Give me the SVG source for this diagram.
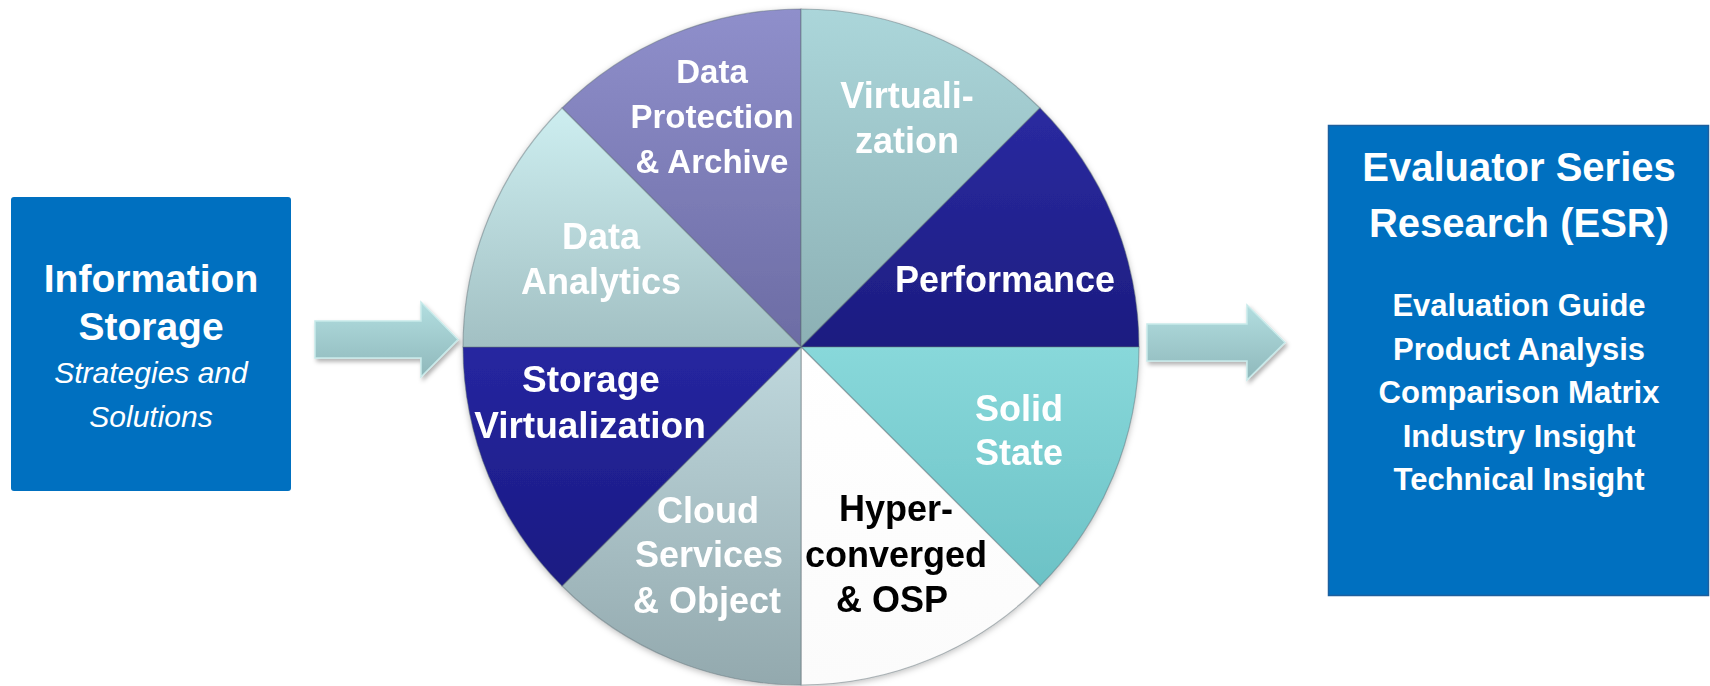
<svg xmlns="http://www.w3.org/2000/svg" width="1710" height="686" viewBox="0 0 1710 686">
<style>
.box{fill:#0070c0}
.t{font-family:"Liberation Sans",Arial,sans-serif;text-anchor:middle}
.w{fill:#ffffff}
.b{font-weight:bold}
.k{fill:#000000}
.it{font-style:italic}
.sec{stroke:#5a6a70;stroke-opacity:0.45;stroke-width:1.2}
.arrow{fill:url(#gArrow);stroke:#c8eaea;stroke-width:1.5}
</style>
<defs>
<linearGradient id="gDP" x1="0" y1="0" x2="0" y2="1"><stop offset="0" stop-color="#8f8fcb"/><stop offset="1" stop-color="#6c6ca4"/></linearGradient>
<linearGradient id="gV" x1="0" y1="0" x2="0" y2="1"><stop offset="0" stop-color="#abd6da"/><stop offset="1" stop-color="#8cb0b4"/></linearGradient>
<linearGradient id="gP" x1="0" y1="0" x2="0" y2="1"><stop offset="0" stop-color="#2a2aa0"/><stop offset="1" stop-color="#1c1c80"/></linearGradient>
<linearGradient id="gSS" x1="0" y1="0" x2="0" y2="1"><stop offset="0" stop-color="#88d8da"/><stop offset="1" stop-color="#6cc2c6"/></linearGradient>
<linearGradient id="gH" x1="0" y1="0" x2="0" y2="1"><stop offset="0" stop-color="#ffffff"/><stop offset="1" stop-color="#fbfbfb"/></linearGradient>
<linearGradient id="gC" x1="0" y1="0" x2="0" y2="1"><stop offset="0" stop-color="#bfd8dd"/><stop offset="1" stop-color="#93a9ae"/></linearGradient>
<linearGradient id="gSV" x1="0" y1="0" x2="0" y2="1"><stop offset="0" stop-color="#2626a0"/><stop offset="1" stop-color="#1a1a82"/></linearGradient>
<linearGradient id="gDA" x1="0" y1="0" x2="0" y2="1"><stop offset="0" stop-color="#cdeef0"/><stop offset="1" stop-color="#a2c0c3"/></linearGradient>
<linearGradient id="gArrow" x1="0" y1="0" x2="0" y2="1"><stop offset="0" stop-color="#b2dee0"/><stop offset="1" stop-color="#8fb8bb"/></linearGradient>
<filter id="shadow" x="-10%" y="-10%" width="125%" height="130%"><feDropShadow dx="2" dy="3" stdDeviation="2" flood-color="#000000" flood-opacity="0.3"/></filter>
<filter id="pieShadow" x="-5%" y="-5%" width="110%" height="110%"><feDropShadow dx="0" dy="2" stdDeviation="3" flood-color="#000000" flood-opacity="0.25"/></filter>
</defs>

<g id="source">
<rect class="box" x="11" y="197" width="280" height="294" rx="3"/>
<text class="t w b" x="151" y="292" font-size="39">Information</text>
<text class="t w b" x="151" y="340" font-size="39">Storage</text>
<text class="t w it" x="151" y="383" font-size="30">Strategies and</text>
<text class="t w it" x="151" y="427" font-size="30">Solutions</text>
</g>

<g id="connectors" filter="url(#shadow)">
<path id="arrow-in" class="arrow" d="M315,321 L421,321 L421,302 L458,339.5 L421,377 L421,358 L315,358 Z"/>
<path id="arrow-out" class="arrow" d="M1147,324 L1247,324 L1247,305 L1285,342.5 L1247,380 L1247,361 L1147,361 Z"/>
</g>

<g id="pie" filter="url(#pieShadow)">
<g id="seg-data-protection">
<path class="sec" fill="url(#gDP)" d="M801,347 L562,108 A338,338 0 0 1 801,9 Z"/>
<text class="t w b" x="712" y="83" font-size="33">Data</text>
<text class="t w b" x="712" y="128" font-size="33">Protection</text>
<text class="t w b" x="712" y="173" font-size="33">&amp; Archive</text>
</g>
<g id="seg-virtualization">
<path class="sec" fill="url(#gV)" d="M801,347 L801,9 A338,338 0 0 1 1040,108 Z"/>
<text class="t w b" x="907" y="108" font-size="36">Virtuali-</text>
<text class="t w b" x="907" y="153" font-size="36">zation</text>
</g>
<g id="seg-performance">
<path class="sec" fill="url(#gP)" d="M801,347 L1040,108 A338,338 0 0 1 1139,347 Z"/>
<text class="t w b" x="1005" y="292" font-size="36">Performance</text>
</g>
<g id="seg-solid-state">
<path class="sec" fill="url(#gSS)" d="M801,347 L1139,347 A338,338 0 0 1 1040,586 Z"/>
<text class="t w b" x="1019" y="421" font-size="36">Solid</text>
<text class="t w b" x="1019" y="465" font-size="36">State</text>
</g>
<g id="seg-hyperconverged">
<path class="sec" fill="url(#gH)" d="M801,347 L1040,586 A338,338 0 0 1 801,685 Z"/>
<text class="t k b" x="896" y="521" font-size="36">Hyper-</text>
<text class="t k b" x="896" y="567" font-size="36">converged</text>
<text class="t k b" x="892" y="612" font-size="36">&amp; OSP</text>
</g>
<g id="seg-cloud">
<path class="sec" fill="url(#gC)" d="M801,347 L801,685 A338,338 0 0 1 562,586 Z"/>
<text class="t w b" x="708" y="523" font-size="36">Cloud</text>
<text class="t w b" x="709" y="567" font-size="36">Services</text>
<text class="t w b" x="707" y="613" font-size="36">&amp; Object</text>
</g>
<g id="seg-storage-virtualization">
<path class="sec" fill="url(#gSV)" d="M801,347 L562,586 A338,338 0 0 1 463,347 Z"/>
<text class="t w b" x="591" y="392" font-size="37">Storage</text>
<text class="t w b" x="590" y="438" font-size="37">Virtualization</text>
</g>
<g id="seg-data-analytics">
<path class="sec" fill="url(#gDA)" d="M801,347 L463,347 A338,338 0 0 1 562,108 Z"/>
<text class="t w b" x="601" y="249" font-size="36">Data</text>
<text class="t w b" x="601" y="294" font-size="36">Analytics</text>
</g>
</g>

<g id="esr">
<rect class="box" x="1328.5" y="125.5" width="380" height="470" stroke="#1d5f9e" stroke-width="1.5"/>
<text class="t w b" x="1519" y="181" font-size="40">Evaluator Series</text>
<text class="t w b" x="1519" y="237" font-size="40">Research (ESR)</text>
<text class="t w b" x="1519" y="316" font-size="31">Evaluation Guide</text>
<text class="t w b" x="1519" y="360" font-size="31">Product Analysis</text>
<text class="t w b" x="1519" y="403" font-size="31">Comparison Matrix</text>
<text class="t w b" x="1519" y="447" font-size="31">Industry Insight</text>
<text class="t w b" x="1519" y="490" font-size="31">Technical Insight</text>
</g>
</svg>
